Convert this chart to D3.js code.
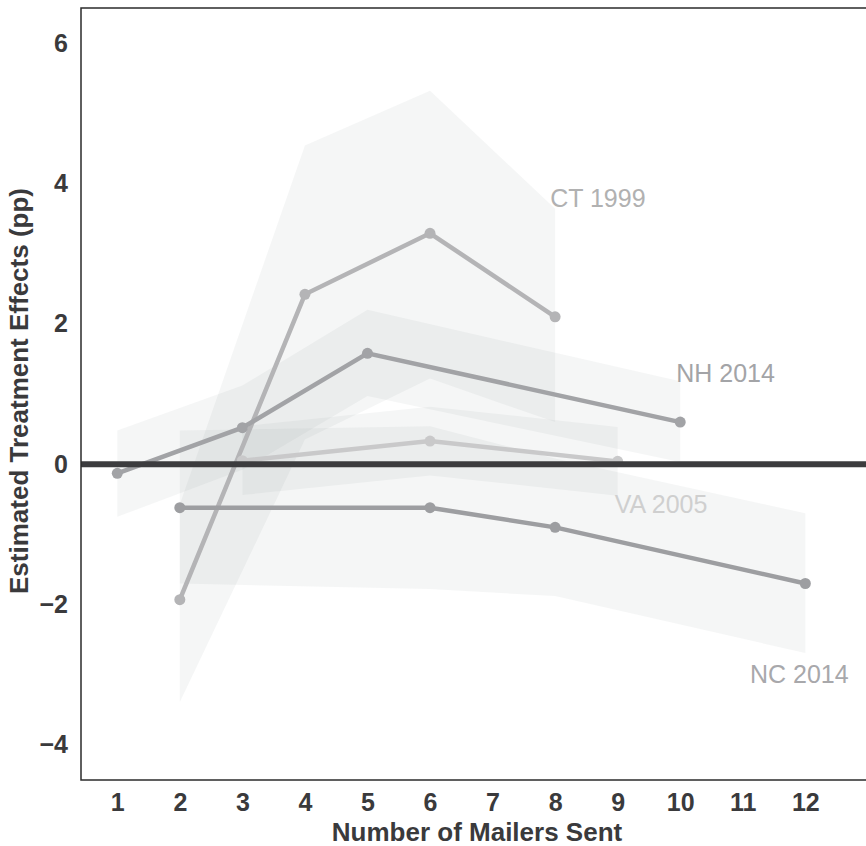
<!DOCTYPE html>
<html>
<head>
<meta charset="utf-8">
<script src="https://cdn.jsdelivr.net/npm/d3@7"></script>
<style>
  body { margin: 0; background: #fff; }
  text { font-family: "Liberation Sans", Arial, sans-serif; }
</style>
</head>
<body>
<svg id="plotarea"></svg>
<script>
// tick labels
var xTicks = [1, 2, 3, 4, 5, 6, 7, 8, 9, 10, 11, 12];
var yTicks = [-4, -2, 0, 2, 4, 6];

// series: mailers sent, estimate, lower and upper bound (pp)
var ctX   = [2, 4, 6, 8];
var ctEst = [-1.93, 2.42, 3.29, 2.10];
var ctLo  = [-3.39, 0.35, 1.22, 0.60];
var ctHi  = [-0.57, 4.54, 5.32, 3.64];

var nhX   = [1, 3, 5, 10];
var nhEst = [-0.13, 0.52, 1.58, 0.60];
var nhLo  = [-0.75, -0.08, 0.97, 0.03];
var nhHi  = [0.48, 1.12, 2.20, 1.18];

var ncX   = [2, 6, 8, 12];
var ncEst = [-0.62, -0.62, -0.90, -1.70];
var ncLo  = [-1.70, -1.78, -1.88, -2.69];
var ncHi  = [0.48, 0.54, 0.08, -0.70];

var vaX   = [3, 6, 9];
var vaEst = [0.05, 0.33, 0.04];
var vaLo  = [-0.44, -0.16, -0.45];
var vaHi  = [0.54, 0.82, 0.53];

function rows(xs, est, lo, hi) {
    return xs.map(function (x, i) {
        return {x: x, est: est[i], lo: lo[i], hi: hi[i]};
    });
}

// label placement: where relative to last point, and styling
var series = [
    {name: "CT 1999", data: rows(ctX, ctEst, ctLo, ctHi), color: "#b4b4b6", label: "#b1b1b1", at: "hi", dx: -5, dy: -2, anchor: "start"},
    {name: "VA 2005", data: rows(vaX, vaEst, vaLo, vaHi), color: "#c9c9ca", label: "#cfcfcf", at: "lo", dx: -3, dy: 17, anchor: "start"},
    {name: "NH 2014", data: rows(nhX, nhEst, nhLo, nhHi), color: "#a2a3a6", label: "#a3a4a7", at: "hi", dx: -4, dy: 1, anchor: "start"},
    {name: "NC 2014", data: rows(ncX, ncEst, ncLo, ncHi), color: "#9d9ea1", label: "#a8a8ab", at: "lo", dx: -6, dy: 30, anchor: "middle"}
];

var width = 866, height = 846;
var margin = {top: 8, right: -8, bottom: 66, left: 81};

var svg = d3.select("#plotarea")
    .attr("width", width)
    .attr("height", height);

var x = d3.scaleLinear()
    .domain([0.42, 12.97])
    .range([margin.left, width]);

var y = d3.scaleLinear()
    .domain([-4.5, 6.5])
    .range([height - margin.bottom, margin.top]);

// Bands first, all with the same translucent grey
var area = d3.area()
    .x(function (d) { return x(d.x); })
    .y0(function (d) { return y(d.lo); })
    .y1(function (d) { return y(d.hi); });

svg.append("g").selectAll("path")
    .data(series)
    .enter()
    .append("path")
    .attr("d", function (s) { return area(s.data); })
    .attr("fill", "#7a8085")
    .attr("fill-opacity", 0.075);

// Lines and points
var line = d3.line()
    .x(function (d) { return x(d.x); })
    .y(function (d) { return y(d.est); });

var grp = svg.append("g").selectAll("g")
    .data(series)
    .enter()
    .append("g");

grp.append("path")
    .attr("d", function (s) { return line(s.data); })
    .attr("fill", "none")
    .attr("stroke", function (s) { return s.color; })
    .attr("stroke-width", 4.5);

grp.selectAll("circle")
    .data(function (s) { return s.data.map(function (d) { return {d: d, c: s.color}; }); })
    .enter()
    .append("circle")
    .attr("cx", function (p) { return x(p.d.x); })
    .attr("cy", function (p) { return y(p.d.est); })
    .attr("r", 5.5)
    .attr("fill", function (p) { return p.c; });

// series labels
svg.append("g").selectAll("text")
    .data(series)
    .enter()
    .append("text")
    .attr("x", function (s) { var last = s.data[s.data.length - 1]; return x(last.x) + s.dx; })
    .attr("y", function (s) { var last = s.data[s.data.length - 1]; return y(last[s.at]) + s.dy; })
    .attr("text-anchor", function (s) { return s.anchor; })
    .attr("fill", function (s) { return s.label; })
    .style("font-size", "25px")
    .text(function (s) { return s.name; });

// zero line sits on top of everything
svg.append("line")
    .attr("x1", margin.left)
    .attr("x2", width)
    .attr("y1", y(0))
    .attr("y2", y(0))
    .attr("stroke", "#3c3c3e")
    .attr("stroke-width", 6);

// panel border (right side falls outside the picture)
svg.append("rect")
    .attr("x", margin.left)
    .attr("y", margin.top)
    .attr("width", width + 10 - margin.left)
    .attr("height", height - margin.bottom - margin.top)
    .attr("fill", "none")
    .attr("stroke", "#2b2b2b")
    .attr("stroke-width", 1.5);

// axes
var fmt = function (v) { return v < 0 ? "\u2212" + Math.abs(v) : String(v); };

var xAxis = svg.append("g")
    .attr("transform", "translate(0," + (height - margin.bottom) + ")")
    .call(d3.axisBottom(x).tickValues(xTicks).tickSize(0).tickPadding(13));

var yAxis = svg.append("g")
    .attr("transform", "translate(" + margin.left + ",0)")
    .call(d3.axisLeft(y).tickValues(yTicks).tickFormat(fmt).tickSize(0).tickPadding(13));

[xAxis, yAxis].forEach(function (a) {
    a.select(".domain").remove();
    a.selectAll("text")
        .attr("fill", "#3a3a3c")
        .style("font-size", "25px")
        .style("font-weight", "bold")
        .style("font-family", "\"Liberation Sans\", Arial, sans-serif");
});

svg.append("text")
    .attr("x", 477)
    .attr("y", 841)
    .attr("text-anchor", "middle")
    .attr("fill", "#3a3a3c")
    .style("font-size", "26px")
    .style("font-weight", "bold")
    .text("Number of Mailers Sent");

svg.append("text")
    .attr("transform", "translate(28," + 391 + ") rotate(-90)")
    .attr("text-anchor", "middle")
    .attr("fill", "#3a3a3c")
    .style("font-size", "26px")
    .style("font-weight", "bold")
    .text("Estimated Treatment Effects (pp)");
</script>
</body>
</html>
